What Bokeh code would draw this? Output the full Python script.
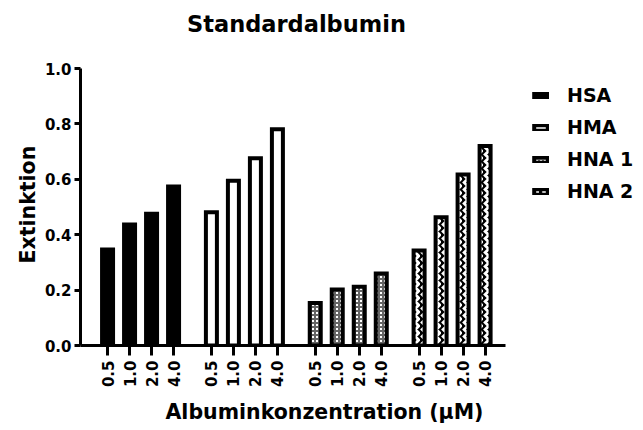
import math

from bokeh.plotting import figure
from bokeh.models import (Range1d, FixedTicker, Legend, LegendItem, Title, Label,
                          ColumnDataSource, NumeralTickFormatter)
from bokeh.embed import file_html
from bokeh.resources import INLINE

# ---------------- data ----------------
groups = ["HSA", "HMA", "HNA 1", "HNA 2"]
concentrations = ["0.5", "1.0", "2.0", "4.0"]
hsa = [0.347, 0.437, 0.476, 0.574]
hma = [0.481, 0.595, 0.676, 0.781]
hna1 = [0.153, 0.202, 0.212, 0.260]
hna2 = [0.343, 0.463, 0.617, 0.720]
y_ticks = [0.0, 0.2, 0.4, 0.6, 0.8, 1.0]

title_text = "Standardalbumin"
x_label = "Albuminkonzentration (\u00b5M)"
y_label = "Extinktion"

# ---------------- layout constants ----------------
GROUP_PITCH = 4.72
BAR_WIDTH = 0.5
X_AXIS_BOUNDS = (-1.23, 18.09)
Y_AXIS_BOUNDS = (0, 1)
FONT = "DejaVu Sans"

# frame extends to the right and top edges so that legend/title (drawn inside it) are not clipped
p = figure(width=643, height=430, output_backend="svg", toolbar_location=None,
           x_range=Range1d(-1.23, 24.36), y_range=Range1d(0, 1.2455),
           min_border_left=80, min_border_right=0, min_border_top=0,
           min_border_bottom=85)
p.outline_line_color = None
p.xgrid.visible = False
p.ygrid.visible = False
p.background_fill_color = "white"
p.title.visible = False

series = [hsa, hma, hna1, hna2]
styles = [
    dict(fill_color="black"),
    dict(fill_color="white"),
    dict(fill_color="white", hatch_pattern="cross", hatch_color="#666666",
         hatch_scale=4, hatch_weight=2),
    dict(fill_color="black", hatch_pattern="vertical_wave", hatch_color="white",
         hatch_scale=7, hatch_weight=3),
]

renderers = []
tick_pos = []
tick_labels = {}
for g, (vals, st) in enumerate(zip(series, styles)):
    xs = [round(g * GROUP_PITCH + i, 3) for i in range(len(concentrations))]
    for xv, lab in zip(xs, concentrations):
        tick_pos.append(xv)
        tick_labels[xv] = lab
    src = ColumnDataSource(dict(x=xs, top=vals))
    r = p.vbar(x="x", top="top", bottom=0, width=BAR_WIDTH, source=src,
               line_color="black", line_width=4, line_join="miter", **st)
    renderers.append(r)

# axes
for ax in (p.xaxis[0], p.yaxis[0]):
    ax.axis_line_width = 3
    ax.axis_line_color = "black"
    ax.major_tick_line_width = 3
    ax.major_tick_line_color = "black"
    ax.minor_tick_line_color = None
    ax.major_tick_in = 0
    ax.major_label_text_font = FONT
    ax.major_label_text_font_style = "bold"
    ax.major_label_text_font_size = "15px"
    ax.major_label_text_color = "black"

p.xaxis.bounds = X_AXIS_BOUNDS
p.xaxis.ticker = FixedTicker(ticks=tick_pos)
p.xaxis.major_label_overrides = tick_labels
p.xaxis.major_label_orientation = math.pi / 2
p.xaxis.major_tick_out = 10
p.xaxis.major_label_standoff = 5

p.yaxis.bounds = Y_AXIS_BOUNDS
p.yaxis.ticker = FixedTicker(ticks=y_ticks)
p.yaxis.formatter = NumeralTickFormatter(format="0.0")
p.yaxis.major_tick_out = 6
p.yaxis.major_label_standoff = 3

# y-axis title (left panel, centred on the 0..1 axis rather than the extended frame)
p.add_layout(Title(text=y_label, align="left", offset=82, vertical_align="bottom",
                   text_font=FONT, text_font_style="bold", text_font_size="20.5px",
                   text_color="black", standoff=4), "left")

# chart title (inside the extended frame, above the plot area)
p.add_layout(Label(x=216, y=322, x_units="screen", y_units="screen", text=title_text,
                   text_align="center", text_baseline="alphabetic",
                   text_font=FONT, text_font_style="bold", text_font_size="22.5px",
                   text_color="black"))

# x-axis title below the tick labels
p.add_layout(Title(text=x_label, align="left", offset=85, vertical_align="bottom",
                   text_font=FONT, text_font_style="bold", text_font_size="20.5px",
                   text_color="black", standoff=14), "below")

legend = Legend(items=[LegendItem(label=g, renderers=[r]) for g, r in zip(groups, renderers)],
                location=(452, 143), orientation="vertical",
                glyph_width=17, glyph_height=7, label_standoff=18,
                label_height=20, spacing=10, padding=0, margin=0,
                border_line_alpha=0, background_fill_alpha=0,
                label_text_font=FONT, label_text_font_style="bold",
                label_text_font_size="19px", label_text_color="black")
p.add_layout(legend, "center")

open("out.html", "w").write(file_html(p, INLINE))
